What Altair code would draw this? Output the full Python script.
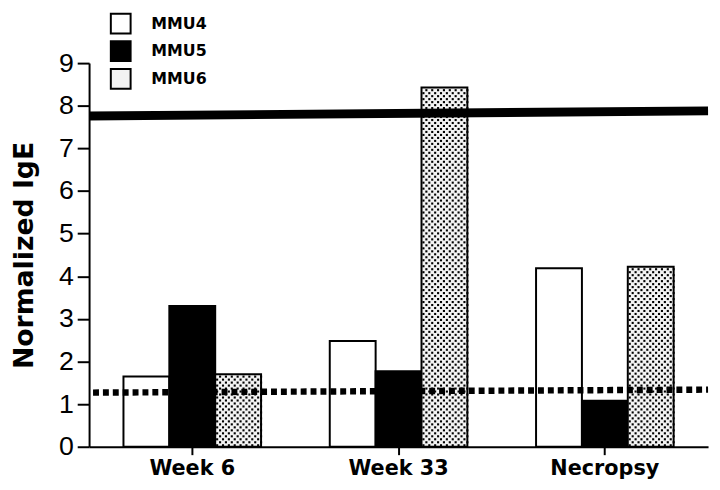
import altair as alt
import pandas as pd

# ---- data ----
groups = ["Week 6", "Week 33", "Necropsy"]
series = ["MMU4", "MMU5", "MMU6"]
mmu4 = [1.65, 2.48, 4.19]
mmu5 = [3.30, 1.77, 1.08]
mmu6 = [1.70, 8.43, 4.22]
upper_line = [7.76, 7.88]   # left end, right end
lower_line = [1.27, 1.34]   # left end, right end
y_ticks = [0, 1, 2, 3, 4, 5, 6, 7, 8, 9]

rows = []
for s, vals in zip(series, [mmu4, mmu5, mmu6]):
    for g, v in zip(groups, vals):
        rows.append({"group": g, "series": s, "value": v})
df = pd.DataFrame(rows)
lines = pd.DataFrame({"y1": [upper_line[0]], "y2": [upper_line[1]]})
dlines = pd.DataFrame({"y1": [lower_line[0]], "y2": [lower_line[1]]})

W, H = 626, 388
DOT_STEP = 0.07

x_scale = alt.Scale(domain=groups, paddingInner=0.333, paddingOuter=0.1667)
y_scale = alt.Scale(domain=[0, 9], nice=False, zero=True)
y_axis = alt.Axis(values=y_ticks, title="Normalized IgE", grid=False,
                  titleFont="DejaVu Sans", titleFontWeight="bold", titleFontSize=27,
                  titleColor="black", titlePadding=20,
                  labelFont="Liberation Sans", labelFontSize=27, labelColor="black",
                  labelPadding=4, tickSize=12, tickWidth=2, tickColor="black",
                  domainColor="black", domainWidth=2)
x_axis = alt.Axis(title=None, labelAngle=0, labelFont="DejaVu Sans", labelFontWeight="bold",
                  labelFontSize=21, labelColor="black", labelPadding=3,
                  tickSize=8, tickWidth=2, tickColor="black",
                  domainColor="black", domainWidth=2)

bars = alt.Chart(df).mark_bar(stroke="black", strokeWidth=2).encode(
    x=alt.X("group:N", scale=x_scale, axis=x_axis),
    xOffset=alt.XOffset("series:N", scale=alt.Scale(domain=series, paddingInner=0, paddingOuter=0)),
    y=alt.Y("value:Q", scale=y_scale, axis=y_axis),
    fill=alt.Fill("series:N",
                  scale=alt.Scale(domain=series, range=["white", "black", "#f3f3f3"]),
                  legend=alt.Legend(orient="none", legendX=21, legendY=-51, title=None,
                                    symbolType="square", symbolSize=400,
                                    symbolStrokeColor="black", symbolStrokeWidth=2,
                                    labelFont="DejaVu Sans", labelFontWeight="bold",
                                    labelFontSize=16, labelColor="black",
                                    labelOffset=20, rowPadding=0, padding=0)),
)

# stipple texture of the MMU6 bars
dots = alt.Chart(df).transform_filter(
    alt.datum.series == "MMU6"
).transform_calculate(
    row=f"sequence(0, floor(datum.value / {DOT_STEP}))"
).transform_flatten(["row"]).transform_calculate(
    col="sequence(0, 8)"
).transform_flatten(["col"]).transform_calculate(
    slot="32 + 2 * datum.col + (datum.row % 2)",
    yv=f"(datum.row + 0.5) * {DOT_STEP}",
).mark_square(size=4.5, color="black", opacity=1, strokeWidth=0).encode(
    x=alt.X("group:N", scale=x_scale, axis=x_axis),
    xOffset=alt.XOffset("slot:O", scale=alt.Scale(domain=list(range(48)), paddingInner=0, paddingOuter=0)),
    y=alt.Y("yv:Q", scale=y_scale, axis=y_axis),
)

solid = alt.Chart(lines).mark_rule(color="black", strokeWidth=9, strokeCap="butt").encode(
    x=alt.value(0), x2=alt.value(W),
    y=alt.Y("y1:Q", scale=y_scale, axis=y_axis), y2=alt.Y2("y2"),
)
dotted = alt.Chart(dlines).mark_rule(color="black", strokeWidth=6.5, strokeCap="butt",
                                     strokeDash=[6, 4]).encode(
    x=alt.value(4), x2=alt.value(W),
    y=alt.Y("y1:Q", scale=y_scale, axis=y_axis), y2=alt.Y2("y2"),
)

chart = alt.layer(bars, dots, solid, dotted).resolve_scale(
    xOffset="independent"
).properties(
    width=W, height=H,
    autosize=alt.AutoSizeParams(type="none"),
    padding={"left": 82, "top": 53, "right": 4, "bottom": 40},
    background="white",
).configure_view(stroke=None)

chart.save("out.html", embed_options={"renderer": "svg", "actions": False})
